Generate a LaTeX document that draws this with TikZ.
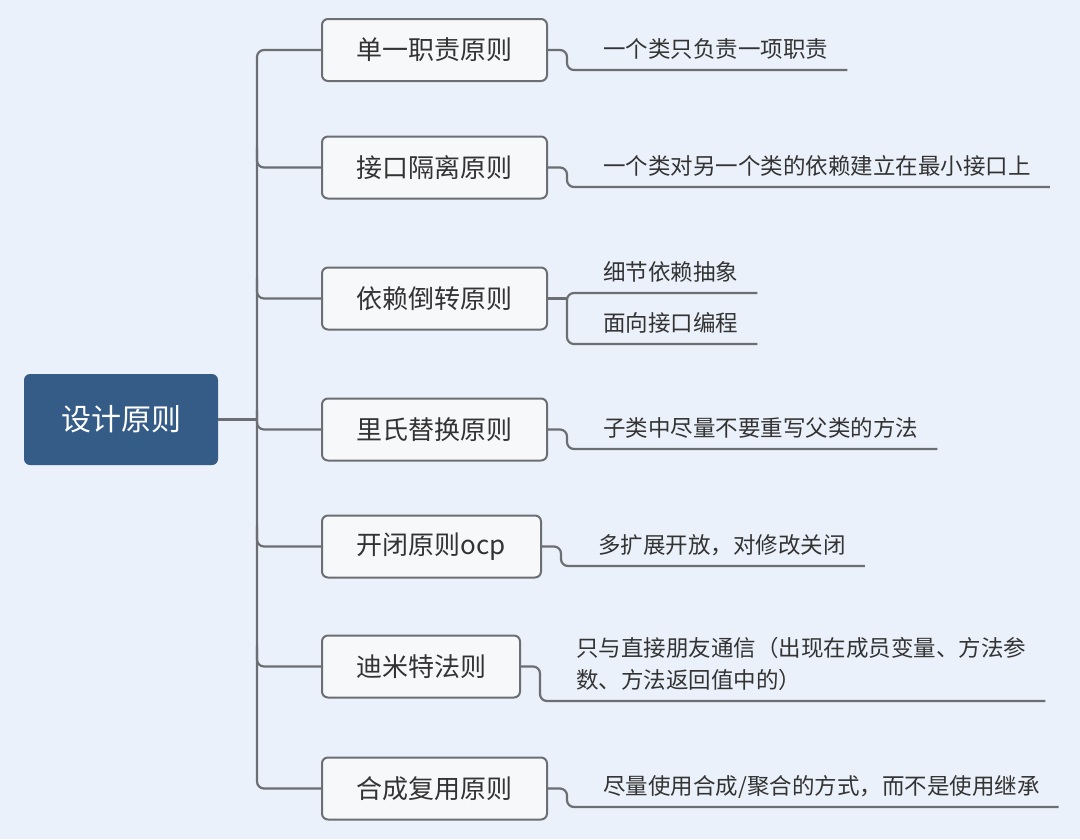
\documentclass[tikz,border=0pt]{standalone}
\usepackage{fontspec}
\setmainfont{Noto Sans CJK SC}
\definecolor{bg}{HTML}{EBF1FA}
\definecolor{rootc}{HTML}{355B87}
\definecolor{linec}{HTML}{6B6E72}
\definecolor{boxc}{HTML}{F7F8FA}
\definecolor{txt}{HTML}{333333}
\begin{document}
\begin{tikzpicture}[x=1pt,y=-1pt,
  conn/.style={draw=linec, line width=2.2pt, rounded corners=7pt},
  rootbox/.style={fill=rootc, rounded corners=6pt, minimum width=194pt, minimum height=91pt, text=white, font=\fontsize{30}{36}\selectfont, inner sep=0pt},
  topic/.style={draw=linec, line width=2pt, fill=boxc, rounded corners=6pt, minimum height=62pt, text=txt, font=\fontsize{26}{30}\selectfont, inner sep=0pt, anchor=west},
  leaf/.style={anchor=south west, inner xsep=19pt, inner ysep=8pt, text depth=4pt, text=txt, font=\fontsize{22.5}{32}\selectfont, align=left}]
\useasboundingbox (0,0) rectangle (1080,839);
\fill[bg] (0,0) rectangle (1080,839);

\node[rootbox] (root) at (121,419.5) {设计原则};
\coordinate (trunk) at (257,0);

\node[topic, minimum width=225pt] (b1) at (321,50) {单一职责原则};
\node[topic, minimum width=225pt] (b2) at (321,167.5) {接口隔离原则};
\node[topic, minimum width=225pt] (b3) at (321,298.5) {依赖倒转原则};
\node[topic, minimum width=225pt] (b4) at (321,429.5) {里氏替换原则};
\node[topic, minimum width=219pt] (b5) at (321,546.5) {开闭原则ocp};
\node[topic, minimum width=198pt] (b6) at (321,666.5) {迪米特法则};
\node[topic, minimum width=225pt] (b7) at (321,788.5) {合成复用原则};

\node[leaf] (l1) at (584,70) {一个类只负责一项职责};
\node[leaf] (l2) at (584,187) {一个类对另一个类的依赖建立在最小接口上};
\node[leaf] (l3a) at (584,293) {细节依赖抽象};
\node[leaf] (l3b) at (584,344) {面向接口编程};
\node[leaf] (l4) at (584,449) {子类中尽量不要重写父类的方法};
\node[leaf] (l5) at (579,566) {多扩展开放，对修改关闭};
\node[leaf] (l6) at (557,701) {只与直接朋友通信（出现在成员变量、方法参\\数、方法返回值中的）};
\node[leaf] (l7) at (584,807) {尽量使用合成/聚合的方式，而不是使用继承};

% trunk
\draw[conn] (root.east) -- (root.east -| trunk);
\draw[conn] (b1.west) -- (trunk |- b1.west) -- (trunk |- b7.west) -- (b7.west);
\foreach \b in {b2,b3,b4,b5,b6} {
  \draw[conn] (trunk |- \b.west) ++(0,-20) -- (trunk |- \b.west) -- (\b.west);
}

% leaves
\draw[conn] (b1.east) -- ++(19,0) coordinate (j1) -- (j1 |- l1.south) -- (l1.south east);
\draw[conn] (b2.east) -- ++(19,0) coordinate (j2) -- (j2 |- l2.south) -- (l2.south east);
\draw[conn] (b3.east) -- ++(19,0) coordinate (j3);
\draw[conn] (l3a.south east) -- (j3 |- l3a.south) -- (j3 |- l3b.south) -- (l3b.south east);
\draw[conn] (b4.east) -- ++(19,0) coordinate (j4) -- (j4 |- l4.south) -- (l4.south east);
\draw[conn] (b5.east) -- ++(19,0) coordinate (j5) -- (j5 |- l5.south) -- (l5.south east);
\draw[conn] (b6.east) -- ++(19,0) coordinate (j6) -- (j6 |- l6.south) -- (l6.south east);
\draw[conn] (b7.east) -- ++(19,0) coordinate (j7) -- (j7 |- l7.south) -- (l7.south east);
\end{tikzpicture}
\end{document}
